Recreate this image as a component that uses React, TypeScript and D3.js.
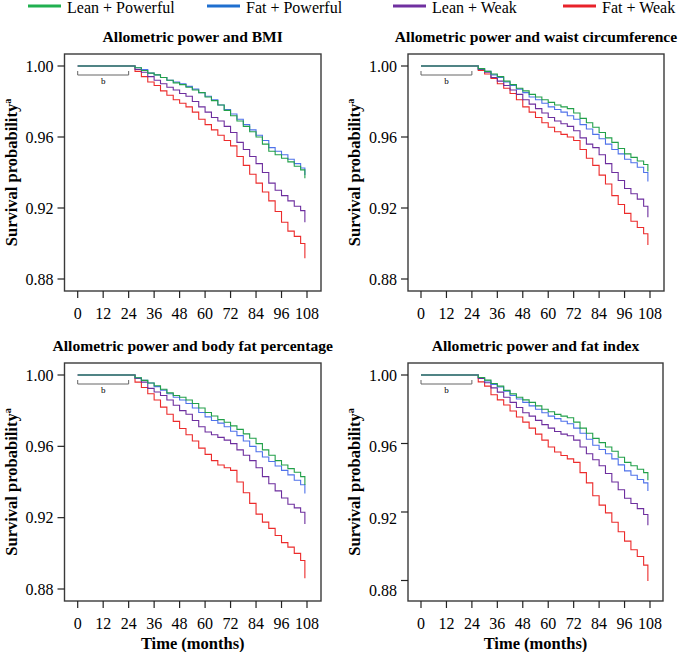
import * as d3 from "d3";

const months = [0, 24, 27, 30, 33, 36, 39, 42, 45, 48, 51, 54, 57, 60, 63, 66, 69, 72, 75, 78, 81, 84, 87, 90, 93, 96, 99, 102, 105, 107];

const groups = ["Lean + Powerful", "Fat + Powerful", "Lean + Weak", "Fat + Weak"];
const lineColors = ["#22a04a", "#4f72ea", "#6d2e9e", "#ec2b2b"];
const legendColors = ["#20b050", "#1f6fcf", "#7030a0", "#e8222a"];

const yTicks = [0.88, 0.92, 0.96, 1.0];
const xTicks = [0, 12, 24, 36, 48, 60, 72, 84, 96, 108];

// Allometric power and BMI
const bmiLeanPowerful = [1, 1.0, 0.999, 0.9975, 0.996, 0.995, 0.9935, 0.992, 0.9905, 0.9895, 0.988, 0.9865, 0.985, 0.9825, 0.9805, 0.978, 0.975, 0.972, 0.969, 0.966, 0.963, 0.96, 0.956, 0.952, 0.95, 0.948, 0.946, 0.9435, 0.9415, 0.9368];
const bmiFatPowerful = [1, 1.0, 0.999, 0.998, 0.996, 0.995, 0.9935, 0.992, 0.991, 0.99, 0.9885, 0.987, 0.985, 0.983, 0.981, 0.978, 0.9755, 0.973, 0.97, 0.967, 0.964, 0.961, 0.958, 0.954, 0.952, 0.95, 0.9475, 0.945, 0.9425, 0.9386];
const bmiLeanWeak = [1, 1.0, 0.998, 0.9965, 0.994, 0.992, 0.99, 0.988, 0.9865, 0.9845, 0.983, 0.98, 0.977, 0.974, 0.971, 0.969, 0.966, 0.9625, 0.957, 0.953, 0.949, 0.945, 0.94, 0.934, 0.93, 0.927, 0.924, 0.921, 0.9185, 0.912];
const bmiFatWeak = [1, 1.0, 0.997, 0.994, 0.991, 0.989, 0.986, 0.9835, 0.981, 0.979, 0.977, 0.974, 0.97, 0.967, 0.964, 0.961, 0.958, 0.955, 0.949, 0.944, 0.939, 0.934, 0.929, 0.924, 0.918, 0.912, 0.907, 0.904, 0.9, 0.8917];

// Allometric power and waist circumference
const waistLeanPowerful = [1, 1.0, 0.9985, 0.997, 0.9955, 0.994, 0.9915, 0.9895, 0.9875, 0.986, 0.984, 0.9825, 0.981, 0.9795, 0.978, 0.977, 0.976, 0.9735, 0.9705, 0.968, 0.9655, 0.9625, 0.9595, 0.957, 0.9535, 0.9505, 0.9485, 0.9465, 0.9445, 0.9405];
const waistFatPowerful = [1, 1.0, 0.9985, 0.997, 0.995, 0.9935, 0.991, 0.989, 0.987, 0.985, 0.9825, 0.981, 0.979, 0.977, 0.9755, 0.974, 0.972, 0.97, 0.967, 0.9645, 0.9615, 0.959, 0.956, 0.953, 0.9505, 0.9475, 0.9455, 0.943, 0.94, 0.9349];
const waistLeanWeak = [1, 1.0, 0.998, 0.9965, 0.9935, 0.9915, 0.989, 0.9865, 0.984, 0.981, 0.9785, 0.976, 0.9735, 0.971, 0.969, 0.9675, 0.966, 0.9635, 0.9595, 0.956, 0.954, 0.95, 0.945, 0.94, 0.9355, 0.931, 0.928, 0.925, 0.921, 0.9148];
const waistFatWeak = [1, 1.0, 0.9975, 0.9955, 0.993, 0.99, 0.9875, 0.9845, 0.981, 0.977, 0.974, 0.971, 0.968, 0.9655, 0.963, 0.9615, 0.96, 0.958, 0.953, 0.948, 0.944, 0.9385, 0.9335, 0.927, 0.922, 0.917, 0.9125, 0.909, 0.9055, 0.8992];

// Allometric power and body fat percentage
const fatPctLeanPowerful = [1, 1.0, 0.9985, 0.997, 0.9955, 0.994, 0.992, 0.99, 0.9885, 0.9875, 0.986, 0.984, 0.9815, 0.979, 0.977, 0.975, 0.9735, 0.9715, 0.9695, 0.967, 0.9645, 0.9615, 0.958, 0.955, 0.952, 0.9495, 0.9475, 0.9455, 0.943, 0.9383];
const fatPctFatPowerful = [1, 1.0, 0.9985, 0.997, 0.9955, 0.9935, 0.9915, 0.9895, 0.9875, 0.986, 0.984, 0.9815, 0.979, 0.9765, 0.9745, 0.973, 0.971, 0.9685, 0.966, 0.963, 0.96, 0.957, 0.954, 0.9515, 0.949, 0.9465, 0.944, 0.941, 0.9385, 0.9336];
const fatPctLeanWeak = [1, 1.0, 0.998, 0.996, 0.9925, 0.9905, 0.9885, 0.986, 0.983, 0.98, 0.978, 0.9745, 0.971, 0.968, 0.9665, 0.965, 0.9635, 0.9615, 0.958, 0.955, 0.952, 0.948, 0.943, 0.939, 0.935, 0.931, 0.9275, 0.9255, 0.923, 0.9164];
const fatPctFatWeak = [1, 1.0, 0.996, 0.993, 0.9895, 0.986, 0.982, 0.978, 0.974, 0.97, 0.9665, 0.963, 0.959, 0.9555, 0.952, 0.9495, 0.948, 0.9465, 0.94, 0.934, 0.928, 0.922, 0.9175, 0.914, 0.91, 0.906, 0.9035, 0.9, 0.896, 0.886];

// Allometric power and fat index
const fatIdxLeanPowerful = [1, 1.0, 0.9985, 0.997, 0.995, 0.9935, 0.991, 0.989, 0.987, 0.9855, 0.984, 0.982, 0.98, 0.9785, 0.977, 0.976, 0.975, 0.9725, 0.969, 0.966, 0.963, 0.9605, 0.958, 0.9555, 0.952, 0.949, 0.947, 0.945, 0.943, 0.9386];
const fatIdxFatPowerful = [1, 1.0, 0.9985, 0.9965, 0.9945, 0.993, 0.9905, 0.988, 0.986, 0.984, 0.982, 0.98, 0.978, 0.976, 0.9745, 0.973, 0.9715, 0.969, 0.966, 0.9625, 0.959, 0.9565, 0.954, 0.951, 0.9475, 0.944, 0.9415, 0.939, 0.937, 0.9323];
const fatIdxLeanWeak = [1, 1.0, 0.998, 0.9955, 0.9925, 0.99, 0.987, 0.984, 0.981, 0.978, 0.976, 0.9735, 0.971, 0.969, 0.967, 0.9655, 0.9645, 0.962, 0.958, 0.954, 0.9505, 0.947, 0.9425, 0.9375, 0.933, 0.928, 0.925, 0.922, 0.9185, 0.9122];
const fatIdxFatWeak = [1, 1.0, 0.996, 0.9935, 0.9885, 0.9855, 0.9825, 0.979, 0.9755, 0.9725, 0.969, 0.9655, 0.962, 0.958, 0.955, 0.953, 0.951, 0.949, 0.943, 0.937, 0.9295, 0.924, 0.9195, 0.914, 0.9085, 0.903, 0.898, 0.894, 0.889, 0.8797];

const titles = [
  "Allometric power and BMI",
  "Allometric power and waist circumference",
  "Allometric power and body fat percentage",
  "Allometric power and fat index",
];
const panelSeries = [
  [bmiLeanPowerful, bmiFatPowerful, bmiLeanWeak, bmiFatWeak],
  [waistLeanPowerful, waistFatPowerful, waistLeanWeak, waistFatWeak],
  [fatPctLeanPowerful, fatPctFatPowerful, fatPctLeanWeak, fatPctFatWeak],
  [fatIdxLeanPowerful, fatIdxFatPowerful, fatIdxLeanWeak, fatIdxFatWeak],
];

const FONT = "'Liberation Serif', 'Times New Roman', serif";

interface Layout {
  left: number;
  right: number;
  top: number;
  bottom: number;
  x0: number;
  x1: number;
  yTop: number;
  yBottom: number;
  labelBottom: number; // the picture's tick labels are not quite on their ticks in one panel
  xLabel: boolean;
}

const layouts: Layout[] = [
  { left: 64.5, right: 321, top: 54, bottom: 291, x0: 77.7, x1: 307, yTop: 66, yBottom: 279, labelBottom: 279, xLabel: false },
  { left: 408, right: 664, top: 54, bottom: 291, x0: 421, x1: 650, yTop: 66, yBottom: 279, labelBottom: 279, xLabel: false },
  { left: 64.5, right: 321, top: 363, bottom: 601, x0: 77.7, x1: 307, yTop: 375, yBottom: 589, labelBottom: 589, xLabel: true },
  { left: 408, right: 663, top: 363, bottom: 601, x0: 421, x1: 650, yTop: 375, yBottom: 580.5, labelBottom: 590, xLabel: true },
];

const Panel = ({ title, series, lay }: { title: string; series: number[][]; lay: Layout }) => {
  const x = d3.scaleLinear().domain([0, 108]).range([lay.x0, lay.x1]);
  const y = d3.scaleLinear().domain([0.88, 1.0]).range([lay.yBottom, lay.yTop]);
  const yLab = d3.scaleLinear().domain([0.88, 1.0]).range([lay.labelBottom, lay.yTop]);
  const line = d3
    .line<number>()
    .x((_, i) => x(months[i]))
    .y((d) => y(d))
    .curve(d3.curveStepAfter);
  const cx = (lay.left + lay.right) / 2;
  const cy = (lay.top + lay.bottom) / 2;
  const bY = y(1.0) + 9;

  return (
    <g fontFamily={FONT}>
      <text x={cx} y={lay.top - 12} textAnchor="middle" fontSize={15.6} fontWeight="bold">
        {title}
      </text>
      <text
        transform={`translate(${lay.left - 48},${cy}) rotate(-90)`}
        textAnchor="middle"
        fontSize={16.5}
        fontWeight="bold"
      >
        Survival probability<tspan fontSize={10} dy={-6}>a</tspan>
      </text>
      {/* curves: draw in reverse so lean+powerful sits on top like the figure */}
      {series
        .map((s, i) => ({ s, i }))
        .reverse()
        .map(({ s, i }) => (
          <path key={i} d={line(s) ?? ""} fill="none" stroke={lineColors[i]} strokeWidth={1.1} />
        ))}
      {/* the 24-month bracket */}
      <path
        d={`M${x(0)},${bY - 4}V${bY}H${x(24)}V${bY - 4}`}
        fill="none"
        stroke="#666"
        strokeWidth={1}
      />
      <text x={x(12)} y={bY + 9} textAnchor="middle" fontSize={9}>
        b
      </text>
      <rect
        x={lay.left}
        y={lay.top}
        width={lay.right - lay.left}
        height={lay.bottom - lay.top}
        fill="none"
        stroke="#3a3a3a"
        strokeWidth={1.4}
      />
      {yTicks.map((t) => (
        <g key={t}>
          <line x1={lay.left - 7} x2={lay.left} y1={y(t)} y2={y(t)} stroke="#222" strokeWidth={1.2} />
          <text x={lay.left - 11} y={yLab(t) + 5.5} textAnchor="end" fontSize={16}>
            {t.toFixed(2)}
          </text>
        </g>
      ))}
      {xTicks.map((t) => (
        <g key={t}>
          <line x1={x(t)} x2={x(t)} y1={lay.bottom} y2={lay.bottom + 7} stroke="#222" strokeWidth={1.2} />
          <text x={x(t)} y={lay.bottom + 28} textAnchor="middle" fontSize={16}>
            {t}
          </text>
        </g>
      ))}
      {lay.xLabel && (
        <text x={cx} y={lay.bottom + 48} textAnchor="middle" fontSize={16.5} fontWeight="bold">
          Time (months)
        </text>
      )}
    </g>
  );
};

const legendX = [28, 207, 393, 563];

export default function App() {
  return (
    <svg
      width={680}
      height={652}
      style={{ position: "absolute", left: 0, top: 0, display: "block", background: "#fff" }}
    >
      <g fontFamily={FONT}>
        {groups.map((g, i) => (
          <g key={g}>
            <line x1={legendX[i]} x2={legendX[i] + 33} y1={6} y2={6} stroke={legendColors[i]} strokeWidth={3} />
            <text x={legendX[i] + 39} y={13} fontSize={16}>
              {g}
            </text>
          </g>
        ))}
      </g>
      {titles.map((t, i) => (
        <Panel key={t} title={t} series={panelSeries[i]} lay={layouts[i]} />
      ))}
    </svg>
  );
}
